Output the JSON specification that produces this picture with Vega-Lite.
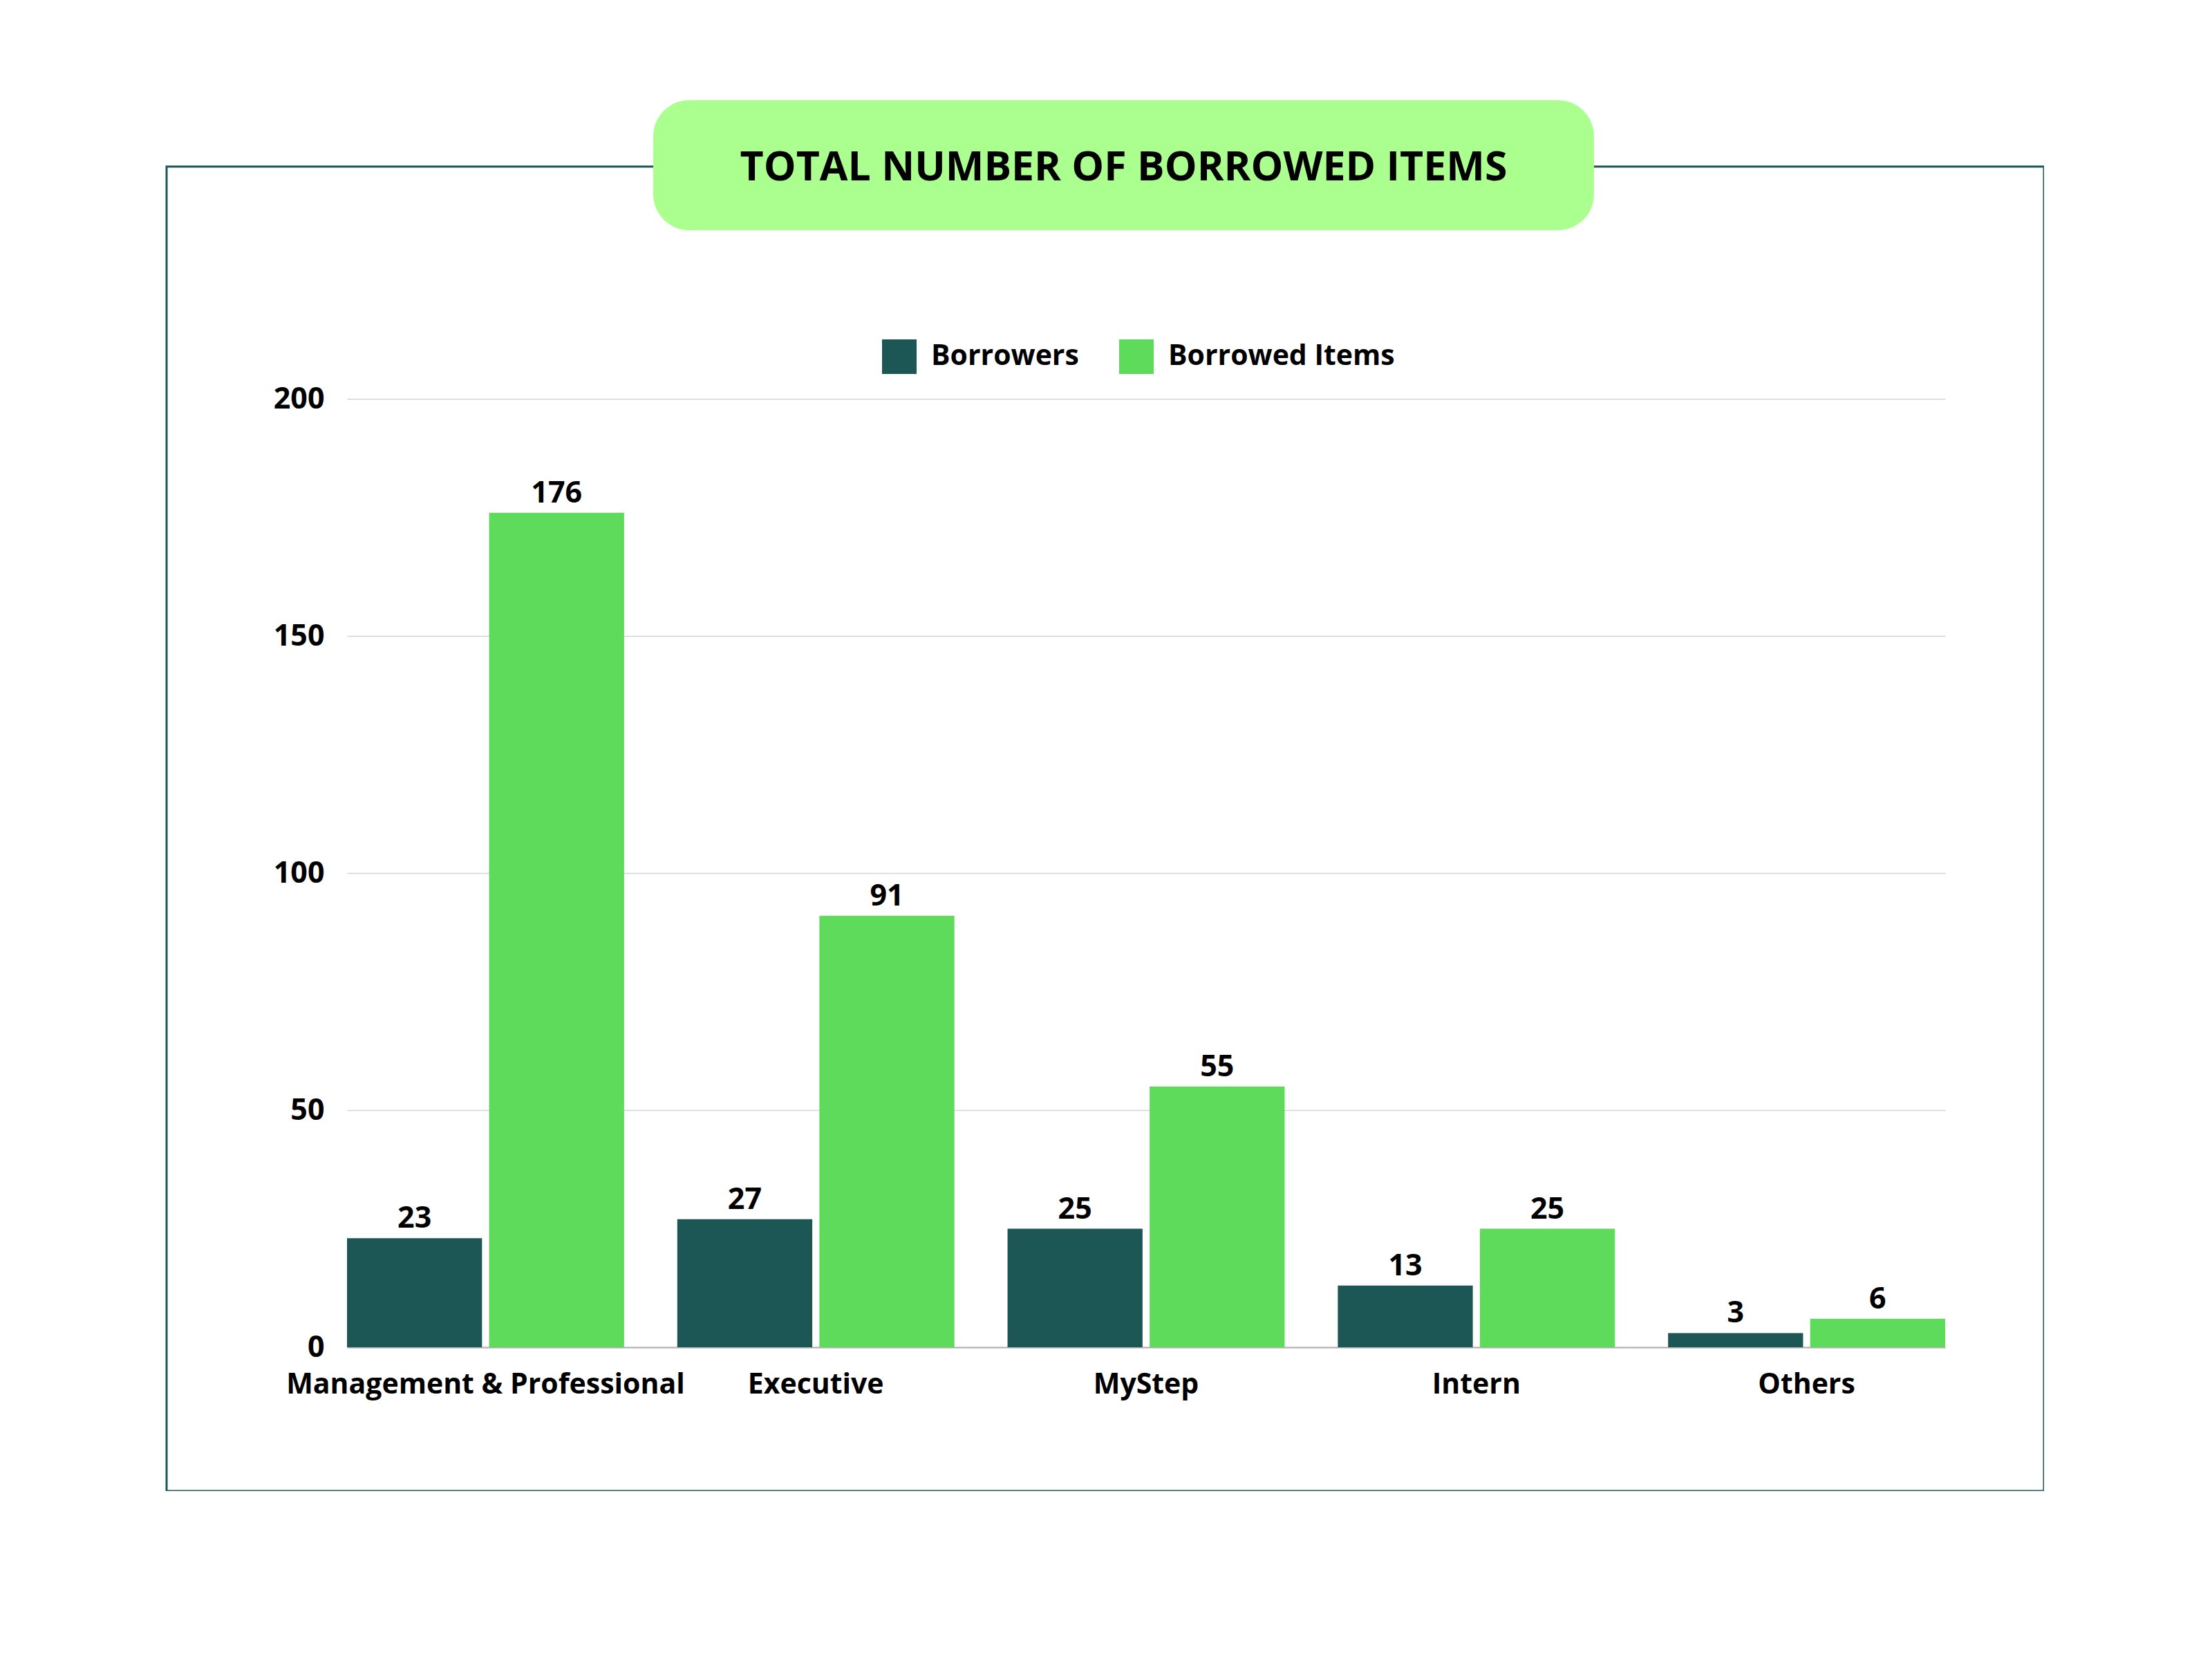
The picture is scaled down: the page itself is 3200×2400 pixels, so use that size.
{
  "$schema": "https://vega.github.io/schema/vega-lite/v6.json",
  "background": "white",
  "padding": {"left": 241, "top": 145, "right": 0, "bottom": 0},
  "autosize": {"type": "pad"},
  "config": {"font": "Open Sans"},
  "width": 2716,
  "height": 1916,
  "view": {"stroke": "#1d5755", "strokeWidth": 3, "fill": "white"},
  "resolve": {"scale": {"x": "independent", "y": "independent", "color": "independent"}, "axis": {"x": "independent", "y": "independent"}},
  "layer": [
    {
      "data": {
        "values": [
          {"category": "Management & Professional", "series": "Borrowers", "value": 23},
          {"category": "Management & Professional", "series": "Borrowed Items", "value": 176},
          {"category": "Executive", "series": "Borrowers", "value": 27},
          {"category": "Executive", "series": "Borrowed Items", "value": 91},
          {"category": "MyStep", "series": "Borrowers", "value": 25},
          {"category": "MyStep", "series": "Borrowed Items", "value": 55},
          {"category": "Intern", "series": "Borrowers", "value": 13},
          {"category": "Intern", "series": "Borrowed Items", "value": 25},
          {"category": "Others", "series": "Borrowers", "value": 3},
          {"category": "Others", "series": "Borrowed Items", "value": 6}
        ]
      },
      "encoding": {
        "x": {
          "field": "category",
          "type": "nominal",
          "sort": ["Management & Professional", "Executive", "MyStep", "Intern", "Others"],
          "scale": {"range": [261, 2573], "paddingInner": 0.161, "paddingOuter": 0},
          "axis": {
            "orient": "bottom",
            "offset": -208,
            "labelPadding": 34,
            "labelLimit": 0,
            "ticks": false,
            "domain": true,
            "domainColor": "#b0b0b0",
            "domainWidth": 2,
            "labelFontSize": 41,
            "labelFontWeight": "bold",
            "labelColor": "black",
            "labelAngle": 0,
            "title": null,
            "grid": false
          }
        },
        "xOffset": {
          "field": "series",
          "sort": ["Borrowers", "Borrowed Items"],
          "scale": {"paddingInner": 0.05}
        },
        "y": {
          "field": "value",
          "type": "quantitative",
          "scale": {"domain": [0, 200], "range": [1708, 336], "nice": false},
          "axis": {
            "orient": "left",
            "offset": -238,
            "values": [0, 50, 100, 150, 200],
            "labelPadding": 10,
            "labelFlush": false,
            "ticks": false,
            "domain": false,
            "grid": true,
            "gridColor": "#d4d4d4",
            "gridWidth": 1.5,
            "labelFontSize": 43,
            "labelFontWeight": "bold",
            "labelColor": "black",
            "title": null
          }
        }
      },
      "layer": [
        {
          "mark": {"type": "bar"},
          "encoding": {
            "color": {
              "field": "series",
              "type": "nominal",
              "scale": {"domain": ["Borrowers", "Borrowed Items"], "range": ["#1d5755", "#5edb5b"]},
              "legend": {
                "orient": "none",
                "legendX": 1035,
                "legendY": 250,
                "direction": "horizontal",
                "title": null,
                "padding": 0,
                "symbolType": "square",
                "symbolSize": 2500,
                "symbolStrokeWidth": 0,
                "symbolOpacity": 1,
                "labelFontSize": 41,
                "labelFontWeight": "bold",
                "labelColor": "black",
                "labelLimit": 0,
                "labelOffset": 21,
                "columnPadding": 58
              }
            }
          }
        },
        {
          "mark": {"type": "text", "dy": -15, "baseline": "alphabetic", "fontSize": 43, "fontWeight": "bold", "color": "black"},
          "encoding": {"text": {"field": "value", "type": "quantitative"}}
        }
      ]
    },
    {
      "data": {"values": [{"title": "TOTAL NUMBER OF BORROWED ITEMS"}]},
      "encoding": {
        "x": {"datum": 0, "type": "quantitative", "scale": {"domain": [0, 1], "range": [704, 2065]}, "axis": null},
        "y": {"datum": 0, "type": "quantitative", "scale": {"domain": [0, 1], "range": [-96, 92]}, "axis": null}
      },
      "layer": [
        {
          "mark": {"type": "rect", "color": "#abff8f", "cornerRadius": 52},
          "encoding": {
            "x2": {"datum": 1},
            "y2": {"datum": 1}
          }
        },
        {
          "mark": {"type": "text", "fontSize": 59, "fontWeight": "bold", "color": "black", "baseline": "middle", "dy": 4},
          "encoding": {
            "x": {"datum": 0.5, "type": "quantitative"},
            "y": {"datum": 0.5, "type": "quantitative"},
            "text": {"field": "title", "type": "nominal"}
          }
        }
      ]
    }
  ]
}
